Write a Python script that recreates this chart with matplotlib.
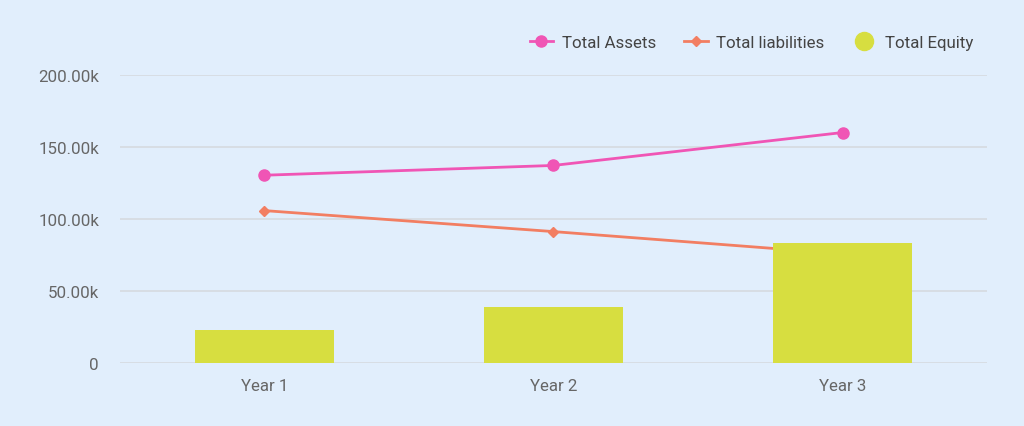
import numpy as np
import matplotlib
matplotlib.use("Agg")
from matplotlib import pyplot as plt
from matplotlib.lines import Line2D

# =============================================================================
# Data
# =============================================================================
years = ["Year 1", "Year 2", "Year 3"]
total_assets = [130.6, 137.4, 160.3]       # thousands
total_liabilities = [106.0, 91.4, 76.0]    # thousands
total_equity = [23.2, 39.2, 83.3]          # thousands
y_ticks = [0, 50, 100, 150, 200]
y_tick_labels = ["0", "50.00k", "100.00k", "150.00k", "200.00k"]

# =============================================================================
# Style
# =============================================================================
bg = "#E1EEFC"
pink = "#F055B5"
salmon = "#F27E62"
lime = "#D7DE40"
grid_col = "#D5DAE0"
text_col = "#666666"
plt.rcParams['font.family'] = ['Roboto', 'DejaVu Sans']

fig = plt.figure(figsize=(10.24, 4.27), dpi=100, facecolor=bg)
ax = fig.add_axes([0.117, 0.1475, 0.847, 0.6735], facecolor=bg)

x = np.arange(len(years))
ax.plot(x, total_assets, color=pink, lw=2, marker='o', ms=8, zorder=3)
ax.plot(x, total_liabilities, color=salmon, lw=2, marker='D', ms=5.5, zorder=3)
ax.bar(x, total_equity, width=0.48, color=lime, zorder=4)

ax.set_xlim(-0.5, 2.5)
ax.set_ylim(0, 200)
ax.set_yticks(y_ticks)
ax.set_yticklabels(y_tick_labels)
ax.set_xticks(x)
ax.set_xticklabels(years)
ax.grid(axis='y', color=grid_col, lw=1.2, zorder=0)
ax.set_axisbelow(True)
for s in ax.spines.values():
    s.set_visible(False)
ax.tick_params(axis='both', length=0, labelsize=12.2, colors=text_col)
ax.tick_params(axis='y', pad=15)
ax.tick_params(axis='x', pad=11)

handles = [
    Line2D([], [], color=pink, lw=2, marker='o', ms=8),
    Line2D([], [], color=salmon, lw=2, marker='D', ms=5.5),
    Line2D([], [], color=lime, lw=0, marker='o', ms=13),
]
fig.legend(handles, ["Total Assets", "Total liabilities", "Total Equity"],
           loc='center right', bbox_to_anchor=(0.965, 0.899), ncol=3,
           frameon=False, fontsize=12.2, labelcolor="#444444",
           handlelength=1.4, columnspacing=1.65, handletextpad=0.5)

fig.savefig("out.png", dpi=100, facecolor=bg)
